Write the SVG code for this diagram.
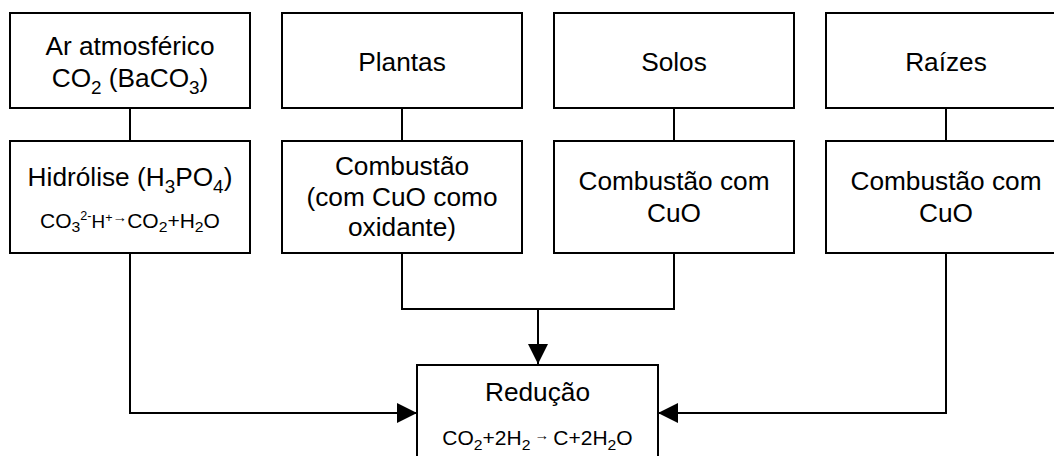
<svg xmlns="http://www.w3.org/2000/svg" width="1054" height="456" viewBox="0 0 1054 456">
  <style>
    .box { fill: #ffffff; stroke: #000000; stroke-width: 2; }
    .conn { fill: none; stroke: #000000; stroke-width: 2; }
    text { font-family: "Liberation Sans", Arial, sans-serif; font-size: 25px; fill: #000000; text-anchor: middle; transform-box: fill-box; transform-origin: center; transform: scaleX(1.05); }
    .sm { font-size: 20px; }
    .sub { font-size: 18px; }
    .ssub { font-size: 15px; }
    .sup { font-size: 12px; }
    .arr { font-size: 14px; }
  </style>
  <defs>
    <marker id="arrow" markerUnits="userSpaceOnUse" markerWidth="20" markerHeight="20" refX="20" refY="10" orient="auto">
      <path d="M0,0 L20,10 L0,20 Z" fill="#000000"/>
    </marker>
  </defs>
  <rect width="1054" height="456" fill="#ffffff"/>

  <g id="connectors">
    <path class="conn" d="M130 108 V141"/>
    <path class="conn" d="M402 108 V141"/>
    <path class="conn" d="M674 108 V141"/>
    <path class="conn" d="M946 108 V141"/>
    <path class="conn" d="M402 253 V309 H674 V253"/>
    <path class="conn" d="M538 309 V364" marker-end="url(#arrow)"/>
    <path class="conn" d="M130 253 V413 H417" marker-end="url(#arrow)"/>
    <path class="conn" d="M946 253 V413 H658" marker-end="url(#arrow)"/>
  </g>

  <g id="ar">
    <rect class="box" x="10" y="13" width="240" height="95"/>
    <text x="130" y="55">Ar atmosférico</text>
    <text x="130" y="87">CO<tspan class="sub" dy="7">2</tspan><tspan dy="-7"> (BaCO</tspan><tspan class="sub" dy="7">3</tspan><tspan dy="-7">)</tspan></text>
  </g>
  <g id="plantas">
    <rect class="box" x="282" y="13" width="240" height="95"/>
    <text x="402" y="71.5">Plantas</text>
  </g>
  <g id="solos">
    <rect class="box" x="554" y="13" width="240" height="95"/>
    <text x="674" y="71.5">Solos</text>
  </g>
  <g id="raizes">
    <rect class="box" x="826" y="13" width="240" height="95"/>
    <text x="946" y="71.5">Raízes</text>
  </g>

  <g id="hidrolise">
    <rect class="box" x="10" y="141" width="240" height="112"/>
    <text x="130" y="186.5">Hidrólise (H<tspan class="sub" dy="6.5">3</tspan><tspan dy="-6.5">PO</tspan><tspan class="sub" dy="6.5">4</tspan><tspan dy="-6.5">)</tspan></text>
    <text class="sm" x="130" y="228">CO<tspan class="ssub" dy="4">3</tspan><tspan class="sup" dy="-12">2-</tspan><tspan dy="8" style="font-size:18px">H</tspan><tspan class="sup" dy="-6">+</tspan><tspan class="arr" dy="0">→</tspan><tspan dy="6">CO</tspan><tspan class="ssub" dy="4">2</tspan><tspan dy="-4">+H</tspan><tspan class="ssub" dy="4">2</tspan><tspan dy="-4">O</tspan></text>
  </g>
  <g id="comb-plantas">
    <rect class="box" x="282" y="141" width="240" height="112"/>
    <text x="402" y="175.5">Combustão</text>
    <text x="402" y="206">(com CuO como</text>
    <text x="402" y="236">oxidante)</text>
  </g>
  <g id="comb-solos">
    <rect class="box" x="554" y="141" width="240" height="112"/>
    <text x="674" y="190.5">Combustão com</text>
    <text x="674" y="222">CuO</text>
  </g>
  <g id="comb-raizes">
    <rect class="box" x="826" y="141" width="240" height="112"/>
    <text x="946" y="190.5">Combustão com</text>
    <text x="946" y="222">CuO</text>
  </g>

  <g id="reducao">
    <rect class="box" x="417" y="365" width="241" height="112"/>
    <text x="537.5" y="401">Redução</text>
    <text class="sm" x="537.5" y="445">CO<tspan class="ssub" dy="5">2</tspan><tspan dy="-5">+2H</tspan><tspan class="ssub" dy="5">2</tspan><tspan class="arr" dy="-10"> → </tspan><tspan dy="5">C+2H</tspan><tspan class="ssub" dy="5">2</tspan><tspan dy="-5">O</tspan></text>
  </g>
</svg>
